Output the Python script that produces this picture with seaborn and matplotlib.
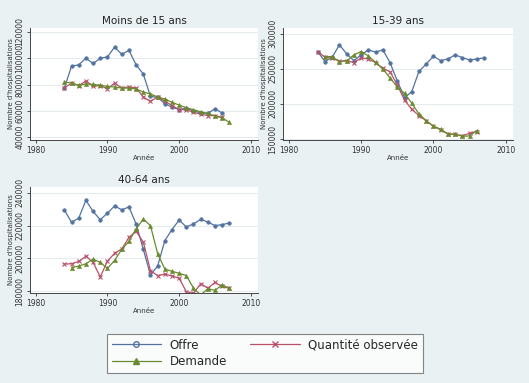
import matplotlib
matplotlib.use("Agg")
import matplotlib.pyplot as plt
from matplotlib.lines import Line2D
import seaborn as sns
import pandas as pd

sns.set_style("white")
plt.rcParams['font.family'] = ['DejaVu Sans']

# Moins de 15 ans
years_a = list(range(1984, 2008))
offre_a = [77500, 94000, 95000, 100000, 96000, 100000, 101000, 108500, 103000, 106000,
           95000, 88000, 71000, 70200, 65500, 62800, 61000, 62000, 60000, 58500, 58000, 61600, 58300]
obs_a = [77500, 81000, 79200, 82700, 78700, 79200, 76700, 81000, 77400, 78200,
         77400, 70500, 67200, 70500, 67300, 64000, 61000, 60800, 58900, 57400, 56400, 56300, 55000]
dem_a = [81900, 81100, 79400, 80400, 80100, 79400, 78600, 78100, 77300, 77300, 76600, 74300,
         72800, 70500, 69000, 66400, 64400, 62300, 60800, 59300, 58000, 56000, 54700, 51200]

# 15-39 ans
offre_b = [274500, 260100, 266300, 284100, 271200, 261500, 269700, 276900, 273600, 276900,
           258700, 232700, 208700, 217300, 246200, 256700, 267800, 261500, 263900, 269700,
           265900, 262500, 263900, 265400]
obs_b = [274500, 266300, 264900, 260600, 261500, 258700, 265400, 263900, 258700, 250500,
         245700, 226900, 205300, 192300, 183200, 176000, 167800, 163000, 157200, 156700,
         154300, 158200, 160600]
dem_b = [267300, 267300, 260100, 261100, 269700, 274500, 268300, 259100, 249500, 237000,
         224000, 214900, 201000, 185600, 176000, 168300, 163900, 156700, 156700, 153800,
         154300, 162000]

# 40-64 ans
offre_c = [229400, 222000, 224600, 235400, 228600, 223600, 227600, 232000, 229600, 231400,
           221000, 205600, 190000, 195400, 210800, 217600, 223400, 219200, 221000, 223800,
           222200, 220000, 220600, 221600]
obs_c = [196600, 196800, 198200, 201400, 197600, 188800, 198400, 203200, 205800, 212800,
         216600, 210000, 192600, 189600, 190400, 189400, 188000, 179800, 178800, 184600,
         182000, 185400, 183000, 181800]
dem_c = [194400, 195400, 196800, 199600, 197600, 194000, 198800, 205600, 210400, 218000,
         224000, 220000, 203000, 193600, 192200, 191000, 189600, 182000, 177800, 181600,
         180600, 184000, 181800]

blue = "#52739f"
red = "#b8506a"
green = "#6a8a2e"
bg = "#e9f1f3"

fig = plt.figure(figsize=(5.29, 3.83), dpi=100, facecolor=bg)


def panel(rect, title, offre, obs, dem, yr_offre, yr_obs, yr_dem, yticks, ylim):
    ax = fig.add_axes(rect)
    ax.set_facecolor("white")
    sns.lineplot(x=yr_offre, y=offre, ax=ax, color=blue, marker="o", markersize=2.6,
                 markeredgewidth=0.4, markeredgecolor=blue, linewidth=0.9)
    sns.lineplot(x=yr_obs, y=obs, ax=ax, color=red, marker="x", markersize=3.2,
                 markeredgewidth=0.8, markeredgecolor=red, linewidth=0.9)
    sns.lineplot(x=yr_dem, y=dem, ax=ax, color=green, marker="^", markersize=3,
                 markeredgewidth=0.4, markeredgecolor=green, linewidth=0.9)
    ax.set_xlim(1979.2, 2011)
    ax.set_ylim(*ylim)
    ax.set_xticks([1980, 1990, 2000, 2010])
    ax.set_yticks(yticks)
    ax.set_yticklabels([str(t) for t in yticks], rotation=90, va="center")
    ax.tick_params(axis="both", labelsize=5.5, length=2.5, width=0.6, pad=1.5,
                   colors="#333333", direction="out", left=True, bottom=True)
    for t in yticks:
        ax.axhline(t, color="#e3ebee", lw=0.7, zorder=0)
    ax.set_title(title, fontsize=7.5, color="#222222", pad=3)
    ax.set_xlabel("Année", fontsize=5, labelpad=0.5, color="#333333")
    ax.set_ylabel("Nombre d'hospitalisations", fontsize=5, labelpad=1, color="#333333")
    for s in ["top", "right"]:
        ax.spines[s].set_visible(False)
    for s in ["left", "bottom"]:
        ax.spines[s].set_color("#444444")
        ax.spines[s].set_linewidth(0.7)
    return ax


panel([30 / 529, 1 - 140 / 383, 228 / 529, 112 / 383], "Moins de 15 ans",
      offre_a, obs_a, dem_a, years_a[:23], years_a[:23], years_a,
      [40000, 60000, 80000, 100000, 120000], (37800, 123000))
panel([283 / 529, 1 - 140 / 383, 230 / 529, 112 / 383], "15-39 ans",
      offre_b, obs_b, dem_b, years_a, years_a[:23], years_a[1:23],
      [150000, 200000, 250000, 300000], (148500, 308000))
panel([30 / 529, 1 - 293 / 383, 228 / 529, 106 / 383], "40-64 ans",
      offre_c, obs_c, dem_c, years_a, years_a, years_a[1:],
      [180000, 200000, 220000, 240000], (179000, 243500))

handles = [
    Line2D([], [], color=blue, marker="o", markersize=4, markerfacecolor="none",
           markeredgewidth=1, lw=0.9),
    Line2D([], [], color=green, marker="^", markersize=4.5, lw=0.9),
    Line2D([], [], color=red, marker="x", markersize=4, markeredgewidth=1, lw=0.9),
]
labels = ["Offre", "Demande", "Quantité observée"]
leg = fig.legend(handles, labels, ncol=2, loc="upper left",
                 bbox_to_anchor=(101 / 529, 1 - 328 / 383), fontsize=8.5,
                 handlelength=4.2, columnspacing=2.0, handletextpad=0.7,
                 labelspacing=0.3, frameon=True, fancybox=False,
                 borderpad=0.4)
leg.get_frame().set_edgecolor("#666666")
leg.get_frame().set_linewidth(0.8)

fig.savefig("out.png", dpi=100, facecolor=bg)
